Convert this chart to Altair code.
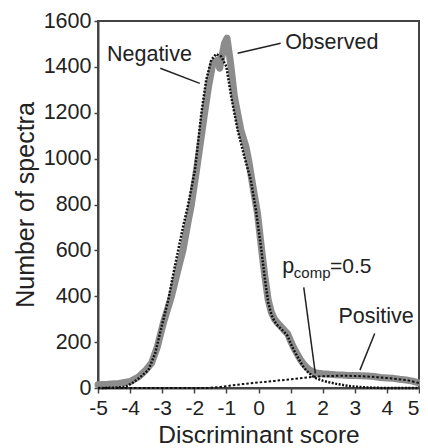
import altair as alt
import pandas as pd

# ---- data ----
obs_x = [-5.0, -4.7, -4.35, -4.0, -3.73, -3.5, -3.33, -3.15, -2.95, -2.71, -2.5, -2.35, -2.2, -2.09,
         -1.9, -1.68, -1.55, -1.42, -1.27, -1.21, -1.06, -0.98, -0.87, -0.75, -0.55, -0.39, -0.29,
         -0.19, -0.03, 0.1, 0.2, 0.3, 0.4, 0.5, 0.6, 0.7, 0.8, 0.9, 1.0, 1.1, 1.2, 1.3, 1.4, 1.5,
         1.6, 1.7, 1.8, 2.0, 2.2, 2.4, 2.6, 2.8, 3.0, 3.2, 3.4, 3.6, 3.8, 4.0, 4.2, 4.4, 4.6, 4.8, 5.0]
obs_y = [14, 16, 20, 28, 49, 80, 109, 180, 290, 400, 520, 602, 720, 800,
         980, 1198, 1320, 1416, 1430, 1394, 1503, 1525, 1416, 1270, 1125, 1052, 980,
         892, 760, 600, 485, 385, 330, 300, 282, 268, 252, 238, 205, 175, 150, 125, 105, 90,
         78, 70, 65, 62, 60, 58, 57, 55, 54, 53, 52, 50, 46, 44, 42, 38, 35, 30, 22]

neg_x = [-5.0, -4.5, -4.15, -3.95, -3.73, -3.43, -3.22, -3.02, -2.81, -2.65, -2.5, -2.35, -2.19,
         -1.98, -1.78, -1.63, -1.47, -1.32, -1.16, -1.0, -0.85, -0.65, -0.44, -0.24, -0.08, 0.1,
         0.2, 0.3, 0.4, 0.5, 0.6, 0.7, 0.8, 0.9, 1.0, 1.1, 1.2, 1.3, 1.4, 1.5, 1.6, 1.7, 1.8,
         2.0, 2.2, 2.4, 2.6, 2.8, 3.0, 3.3, 3.6, 4.0, 4.5, 5.0]
neg_y = [0, 1, 5, 20, 42, 78, 151, 267, 384, 500, 602, 703, 800,
         950, 1198, 1343, 1430, 1456, 1445, 1401, 1270, 1125, 1008, 907, 776, 590,
         475, 375, 320, 290, 272, 258, 244, 228, 195, 165, 140, 115, 92, 75, 62, 50, 42,
         32, 25, 19, 14, 9, 6, 3, 1, 0, 0, 0]

pos_x = [-5.0, -4.0, -3.0, -2.0, -1.6, -1.2, -0.9, -0.5, 0.0, 0.5, 1.0, 1.4, 1.72, 2.0, 2.4, 2.8,
         3.1, 3.4, 3.8, 4.2, 4.6, 5.0]
pos_y = [0, 0, 0, 0, 0, 4, 10, 17, 24, 31, 38, 44, 49, 51, 53, 53,
         52, 50, 46, 41, 35, 22]

y_ticks = [0, 200, 400, 600, 800, 1000, 1200, 1400, 1600]
x_ticks = [-5, -4, -3, -2, -1, 0, 1, 2, 3, 4, 5]

# annotation texts (data coordinates)
ann_text = ["Negative", "Observed", "p", "comp", "=0.5", "Positive"]
ann_x = [-4.72, 0.83, 0.74, 1.10, 2.23, 2.49]
ann_y = [1425, 1480, 500, 480, 500, 283]
ann_size = [21.5, 21.5, 21.5, 15, 21, 21.5]

# leader lines
seg_x1 = [-3.06, -0.65, 1.41, 3.62]
seg_y1 = [1394, 1459, 439, 238]
seg_x2 = [-1.83, 0.69, 1.77, 3.16]
seg_y2 = [1328, 1503, 64, 78]

FONT = "Liberation Sans"
INK = "#222222"
FRAME = "#444444"

obs = pd.DataFrame({"x": obs_x, "y": obs_y})
neg = pd.DataFrame({"x": neg_x, "y": neg_y})
pos = pd.DataFrame({"x": pos_x, "y": pos_y})
ann = pd.DataFrame({"t": ann_text, "x": ann_x, "y": ann_y, "s": ann_size})
seg = pd.DataFrame({"x": seg_x1, "y": seg_y1, "x2": seg_x2, "y2": seg_y2})

xscale = alt.Scale(domain=[-5, 5], nice=False, zero=False)
yscale = alt.Scale(domain=[0, 1600], nice=False, zero=False)

xaxis = alt.Axis(
    values=x_ticks, title="Discriminant score", labelExpr="'' + datum.value",
    grid=False, domainColor=FRAME, domainWidth=2, tickColor=FRAME, tickWidth=1.5,
    tickSize=5, labelFont=FONT, labelFontSize=21, labelColor=INK, labelPadding=4,
    labelAlign=alt.condition("datum.value == 5", alt.value("right"), alt.value("center")),
    labelOverlap=False, labelFlush=False, labelBound=False, labelSeparation=0,
    titleFont=FONT, titleFontSize=24.5, titleFontWeight="normal", titleColor=INK,
    titlePadding=5)
yaxis = alt.Axis(
    values=y_ticks, title="Number of spectra", labelExpr="'' + datum.value",
    grid=False, domainColor=FRAME, domainWidth=2, tickColor=FRAME, tickWidth=1.5,
    tickSize=4, labelFont=FONT, labelFontSize=21.5, labelColor=INK, labelPadding=3,
    labelOverlap=False, labelFlush=False,
    titleFont=FONT, titleFontSize=25, titleFontWeight="normal", titleColor=INK,
    titlePadding=5)

X = alt.X("x:Q", scale=xscale, axis=xaxis)
Y = alt.Y("y:Q", scale=yscale, axis=yaxis)
X2 = alt.X2("x2:Q")
Y2 = alt.Y2("y2:Q")

obs_line = alt.Chart(obs).mark_line(
    color="#8c8c8c", strokeWidth=7, strokeCap="round", strokeJoin="round"
).encode(x=X, y=Y)

neg_line = alt.Chart(neg).mark_line(
    color="#111111", strokeWidth=2.5, strokeDash=[2, 1.5]
).encode(x=X, y=Y)

pos_line = alt.Chart(pos).mark_line(
    color="#111111", strokeWidth=2, strokeDash=[2.5, 2]
).encode(x=X, y=Y)

leaders = alt.Chart(seg).mark_rule(color=INK, strokeWidth=1.5).encode(
    x=X, y=Y, x2=X2, y2=Y2)

labels = alt.Chart(ann).mark_text(
    align="left", baseline="alphabetic", font=FONT, color=INK
).encode(x=X, y=Y, text="t:N", size=alt.Size("s:Q", scale=None, legend=None))

chart = alt.layer(obs_line, neg_line, pos_line, leaders, labels).properties(
    width=321, height=367,
    autosize=alt.AutoSizeParams(type="none"),
    padding={"left": 90, "top": 13, "right": 1, "bottom": 60},
).configure_view(stroke=FRAME, strokeWidth=2)

chart.save("out.html", embed_options={"renderer": "svg", "actions": False})
